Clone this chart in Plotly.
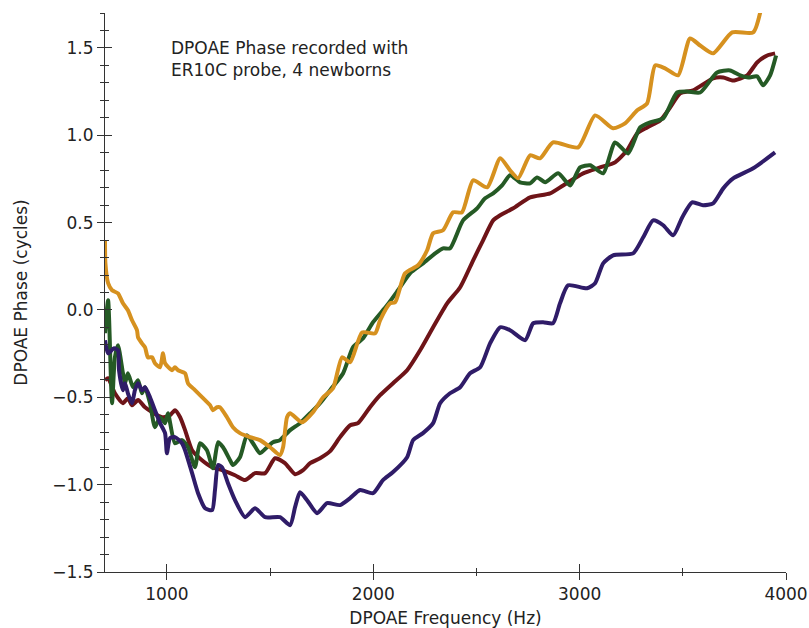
import plotly.graph_objects as go

# ---- data ----
orange_f = [700, 702, 715, 734, 763, 787, 811, 831, 855, 860, 879, 894, 908, 928, 942, 967, 981, 991, 1025, 1039,
            1054, 1088, 1102, 1136, 1185, 1209, 1223, 1243, 1257, 1291, 1320, 1354, 1403, 1451, 1500, 1548, 1563,
            1582, 1597, 1655, 1708, 1757, 1805, 1849, 1888, 1946, 2009, 2033, 2081, 2106, 2154, 2217, 2261, 2290,
            2338, 2387, 2430, 2484, 2552, 2615, 2663, 2702, 2760, 2808, 2871, 2993, 3075, 3162, 3220, 3279, 3327,
            3366, 3414, 3477, 3535, 3584, 3647, 3739, 3841, 3875]
orange_p = [0.399, 0.267, 0.153, 0.113, 0.095, 0.038, -0.002, -0.059, -0.116, -0.156, -0.191, -0.214, -0.271,
            -0.271, -0.305, -0.328, -0.248, -0.305, -0.345, -0.328, -0.345, -0.362, -0.419, -0.459, -0.516, -0.545,
            -0.574, -0.557, -0.557, -0.614, -0.671, -0.705, -0.728, -0.745, -0.786, -0.831, -0.786, -0.614, -0.591,
            -0.643, -0.585, -0.500, -0.448, -0.271, -0.299, -0.128, -0.134, -0.059, 0.038, 0.044, 0.210, 0.256,
            0.342, 0.439, 0.456, 0.559, 0.559, 0.742, 0.702, 0.868, 0.799, 0.754, 0.885, 0.868, 0.959, 0.931,
            1.114, 1.040, 1.068, 1.143, 1.183, 1.400, 1.383, 1.343, 1.554, 1.514, 1.469, 1.589, 1.589, 1.703]

green_f = [700, 715, 734, 748, 763, 787, 797, 811, 836, 860, 879, 894, 918, 942, 967, 991, 1005, 1039, 1073, 1102,
           1136, 1160, 1194, 1223, 1248, 1272, 1306, 1320, 1354, 1388, 1417, 1451, 1485, 1514, 1548, 1597, 1645,
           1694, 1742, 1791, 1854, 1902, 1951, 1999, 2067, 2120, 2178, 2241, 2300, 2338, 2372, 2435, 2503, 2542,
           2581, 2624, 2663, 2711, 2760, 2794, 2833, 2896, 2954, 3002, 3051, 3114, 3172, 3235, 3293, 3342, 3405,
           3472, 3521, 3584, 3666, 3729, 3778, 3817, 3860, 3889, 3923, 3952]
green_p = [-0.133, 0.055, -0.534, -0.271, -0.202, -0.362, -0.419, -0.362, -0.442, -0.402, -0.477, -0.442, -0.534,
           -0.671, -0.614, -0.648, -0.591, -0.763, -0.745, -0.786, -0.900, -0.763, -0.803, -0.906, -0.757, -0.786,
           -0.860, -0.888, -0.843, -0.717, -0.763, -0.820, -0.786, -0.757, -0.745, -0.688, -0.648, -0.591, -0.534,
           -0.459, -0.362, -0.213, -0.162, -0.070, 0.027, 0.113, 0.210, 0.267, 0.324, 0.353, 0.353, 0.513, 0.582,
           0.639, 0.668, 0.713, 0.771, 0.731, 0.725, 0.759, 0.731, 0.782, 0.713, 0.816, 0.828, 0.782, 0.959,
           0.896, 1.045, 1.074, 1.097, 1.245, 1.251, 1.245, 1.360, 1.371, 1.343, 1.331, 1.337, 1.286, 1.343, 1.457]

red_f = [700, 715, 748, 787, 811, 831, 860, 894, 928, 976, 1015, 1039, 1064, 1088, 1122, 1170, 1219, 1267, 1330,
         1379, 1427, 1476, 1524, 1572, 1621, 1660, 1694, 1742, 1791, 1839, 1888, 1926, 1984, 2033, 2096, 2164,
         2227, 2290, 2358, 2421, 2484, 2532, 2581, 2615, 2678, 2760, 2857, 2920, 3017, 3099, 3172, 3230, 3279,
         3327, 3390, 3439, 3487, 3550, 3647, 3696, 3744, 3812, 3860, 3909, 3947]
red_p = [-0.402, -0.391, -0.477, -0.534, -0.505, -0.545, -0.516, -0.557, -0.585, -0.614, -0.603, -0.574, -0.614,
         -0.688, -0.803, -0.860, -0.900, -0.917, -0.946, -0.974, -0.934, -0.934, -0.849, -0.877, -0.940, -0.917,
         -0.877, -0.849, -0.808, -0.728, -0.660, -0.648, -0.557, -0.488, -0.419, -0.345, -0.231, -0.099, 0.038,
         0.130, 0.284, 0.399, 0.513, 0.542, 0.582, 0.645, 0.668, 0.713, 0.782, 0.816, 0.845, 0.914, 1.011, 1.045,
         1.085, 1.160, 1.240, 1.257, 1.326, 1.331, 1.314, 1.343, 1.417, 1.457, 1.469]

purple_f = [700, 715, 744, 763, 768, 787, 797, 811, 831, 845, 860, 879, 894, 918, 942, 967, 991, 1000, 1015, 1039,
            1073, 1088, 1122, 1151, 1185, 1219, 1233, 1248, 1267, 1296, 1330, 1379, 1427, 1476, 1548, 1597, 1621,
            1645, 1679, 1728, 1776, 1839, 1888, 1936, 1999, 2047, 2096, 2164, 2193, 2241, 2290, 2324, 2372, 2421,
            2469, 2518, 2566, 2615, 2663, 2736, 2775, 2823, 2871, 2905, 2944, 3036, 3075, 3114, 3162, 3259, 3308,
            3356, 3405, 3453, 3497, 3545, 3598, 3647, 3696, 3744, 3841, 3947]
purple_p = [-0.173, -0.248, -0.219, -0.231, -0.345, -0.459, -0.419, -0.477, -0.534, -0.459, -0.419, -0.459, -0.442,
            -0.500, -0.574, -0.648, -0.705, -0.820, -0.734, -0.728, -0.763, -0.803, -0.934, -1.049, -1.135, -1.146,
            -1.031, -0.888, -0.900, -0.992, -1.089, -1.186, -1.135, -1.186, -1.186, -1.232, -1.129, -1.043, -1.089,
            -1.163, -1.106, -1.117, -1.077, -1.031, -1.049, -0.974, -0.928, -0.843, -0.745, -0.705, -0.648, -0.534,
            -0.477, -0.442, -0.362, -0.328, -0.191, -0.099, -0.116, -0.173, -0.076, -0.070, -0.076, 0.038, 0.141,
            0.124, 0.153, 0.267, 0.313, 0.324, 0.416, 0.513, 0.485, 0.427, 0.530, 0.616, 0.599, 0.610, 0.696,
            0.753, 0.811, 0.902]

x_ticks = [1000, 2000, 3000, 4000]
y_ticks = [-1.5, -1.0, -0.5, 0.0, 0.5, 1.0, 1.5]
y_tick_text = ["\u22121.5", "\u22121.0", "\u22120.5", "0.0", "0.5", "1.0", "1.5"]

FONT = "DejaVu Sans"
AXC = "#333333"

fig = go.Figure()
series = [
    (red_f, red_p, "#6E1418"),
    (green_f, green_p, "#255A25"),
    (orange_f, orange_p, "#D6911F"),
    (purple_f, purple_p, "#2F1C68"),
]
for f, p, c in series:
    fig.add_trace(go.Scatter(x=f, y=p, mode="lines",
                             line=dict(color=c, width=4, shape="spline", smoothing=0.6),
                             showlegend=False, hoverinfo="skip"))

common_x = dict(range=[700, 4000], showgrid=False, zeroline=False, showline=True, automargin=False,
                linecolor=AXC, linewidth=1, tickvals=x_ticks, tickcolor=AXC, tickwidth=1)
common_y = dict(range=[-1.5, 1.7], showgrid=False, zeroline=False, showline=True, automargin=False,
                linecolor=AXC, linewidth=1, tickvals=y_ticks, tickcolor=AXC, tickwidth=1)

fig.update_layout(
    width=809, height=628,
    margin=dict(l=105, r=23, t=13, b=56),
    paper_bgcolor="white", plot_bgcolor="white",
    font=dict(family=FONT, size=17, color="#222222"),
    xaxis=dict(**common_x, ticks="outside", ticklen=7,
               ticktext=[str(v) for v in x_ticks],
               minor=dict(dtick=500, ticks="outside", ticklen=3, tickcolor=AXC, tickwidth=1, tick0=500),
               title=dict(text="DPOAE Frequency (Hz)", standoff=10, font=dict(size=17))),
    yaxis=dict(**common_y, ticks="outside", ticklen=7, ticktext=y_tick_text,
               minor=dict(dtick=0.1, ticks="outside", ticklen=4, tickcolor=AXC, tickwidth=1, tick0=-1.5),
               title=dict(text="DPOAE Phase (cycles)", standoff=20, font=dict(size=17))),
    xaxis2=dict(**common_x, overlaying="x", anchor="y", side="bottom", ticks="inside", ticklen=8,
                showticklabels=False,
                minor=dict(dtick=500, ticks="inside", ticklen=4, tickcolor=AXC, tickwidth=1, tick0=500)),
    yaxis2=dict(**common_y, overlaying="y", anchor="x", side="left", ticks="inside", ticklen=7,
                showticklabels=False,
                minor=dict(dtick=0.1, ticks="inside", ticklen=4, tickcolor=AXC, tickwidth=1, tick0=-1.5)),
    annotations=[dict(text="DPOAE Phase recorded with<br>ER10C probe, 4 newborns",
                      x=0.094, y=0.958, xref="paper", yref="paper", xanchor="left", yanchor="top",
                      align="left", showarrow=False, font=dict(family=FONT, size=17, color="#222222"))],
)
# dummy invisible trace so the overlay axes are drawn
fig.add_trace(go.Scatter(x=[None], y=[None], xaxis="x2", yaxis="y2", showlegend=False, hoverinfo="skip"))

fig.write_html("out.html", config={"displayModeBar": False},
               post_script="document.body.style.margin='0';document.body.style.overflow='hidden';")
